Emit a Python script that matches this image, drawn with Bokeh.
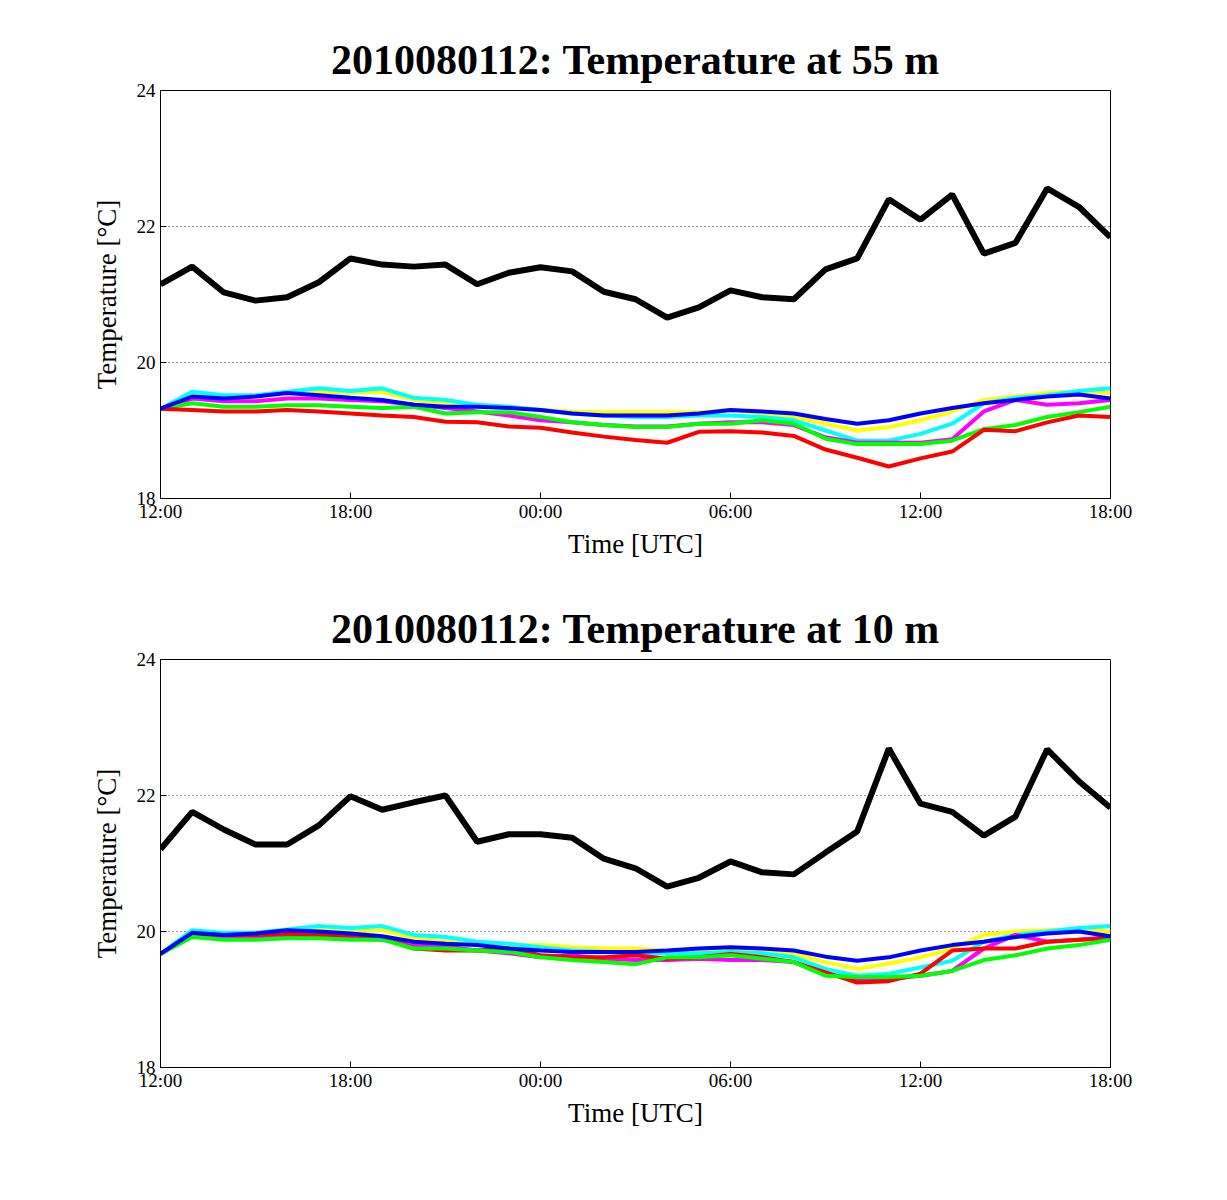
import numpy as np
from bokeh.plotting import figure
from bokeh.layouts import column
from bokeh.models import FixedTicker, Range1d
from bokeh.embed import file_html
from bokeh.resources import INLINE

hours = list(range(31))
tick_hours = [0, 6, 12, 18, 24, 30]
tick_labels = ["12:00", "18:00", "00:00", "06:00", "12:00", "18:00"]

top_black = [21.15,21.41,21.03,20.91,20.96,21.18,21.53,21.44,21.41,21.44,21.15,21.32,21.40,21.34,21.04,20.93,20.66,20.81,21.06,20.96,20.93,21.37,21.53,22.40,22.10,22.47,21.60,21.76,22.56,22.29,21.84]
top_yellow = [19.32,19.55,19.50,19.50,19.55,19.57,19.55,19.57,19.45,19.40,19.37,19.35,19.30,19.28,19.27,19.27,19.27,19.27,19.30,19.25,19.20,19.10,19.00,19.05,19.15,19.28,19.45,19.50,19.55,19.57,19.55]
top_cyan = [19.32,19.57,19.52,19.52,19.57,19.62,19.58,19.62,19.48,19.45,19.38,19.35,19.30,19.25,19.22,19.20,19.20,19.22,19.22,19.20,19.15,19.00,18.85,18.85,18.95,19.10,19.40,19.48,19.52,19.58,19.62]
top_magenta = [19.32,19.47,19.43,19.43,19.47,19.47,19.45,19.43,19.38,19.33,19.28,19.22,19.15,19.12,19.08,19.06,19.06,19.10,19.12,19.12,19.08,18.90,18.82,18.82,18.82,18.87,19.28,19.45,19.38,19.40,19.45]
top_green = [19.32,19.40,19.35,19.35,19.37,19.37,19.35,19.33,19.35,19.25,19.27,19.27,19.20,19.12,19.08,19.05,19.05,19.10,19.10,19.15,19.10,18.88,18.80,18.80,18.80,18.85,19.02,19.08,19.20,19.27,19.35]
top_red = [19.32,19.30,19.28,19.28,19.30,19.28,19.25,19.22,19.20,19.13,19.12,19.06,19.04,18.97,18.91,18.86,18.82,18.98,18.99,18.97,18.92,18.72,18.60,18.47,18.59,18.69,19.01,18.99,19.12,19.22,19.20]
top_blue = [19.32,19.50,19.47,19.50,19.55,19.52,19.48,19.45,19.38,19.35,19.35,19.33,19.30,19.25,19.22,19.22,19.22,19.25,19.30,19.28,19.25,19.17,19.10,19.15,19.25,19.33,19.40,19.45,19.50,19.53,19.47]

bot_black = [21.21,21.76,21.50,21.28,21.28,21.56,21.99,21.79,21.90,22.00,21.32,21.43,21.43,21.38,21.07,20.93,20.66,20.79,21.03,20.87,20.84,21.16,21.47,22.69,21.88,21.76,21.41,21.69,22.68,22.21,21.82]
bot_yellow = [19.67,20.00,19.97,19.97,20.00,20.03,20.00,20.02,19.90,19.85,19.82,19.80,19.80,19.77,19.75,19.75,19.72,19.73,19.75,19.72,19.67,19.55,19.45,19.53,19.62,19.75,19.95,20.00,20.02,20.03,20.00]
bot_cyan = [19.67,20.02,19.98,19.98,20.03,20.08,20.05,20.08,19.95,19.92,19.85,19.82,19.77,19.72,19.70,19.68,19.68,19.68,19.70,19.68,19.62,19.45,19.35,19.38,19.47,19.57,19.85,19.95,20.00,20.05,20.08]
bot_magenta = [19.67,19.95,19.92,19.92,19.95,19.93,19.90,19.88,19.80,19.78,19.72,19.68,19.62,19.65,19.60,19.58,19.58,19.60,19.58,19.58,19.55,19.37,19.30,19.30,19.35,19.42,19.75,19.95,19.85,19.88,19.92]
bot_red = [19.67,19.97,19.95,19.95,19.97,19.95,19.95,19.90,19.75,19.72,19.72,19.75,19.65,19.62,19.62,19.65,19.60,19.62,19.67,19.62,19.55,19.40,19.25,19.27,19.38,19.72,19.75,19.75,19.85,19.88,19.90]
bot_green = [19.67,19.92,19.88,19.88,19.90,19.90,19.88,19.88,19.75,19.75,19.72,19.70,19.62,19.58,19.55,19.52,19.62,19.62,19.65,19.60,19.55,19.35,19.33,19.33,19.35,19.42,19.58,19.65,19.75,19.80,19.88]
bot_blue = [19.67,19.98,19.95,19.97,20.02,20.00,19.97,19.93,19.85,19.82,19.80,19.75,19.72,19.70,19.70,19.70,19.72,19.75,19.77,19.75,19.72,19.63,19.57,19.62,19.72,19.80,19.85,19.92,19.97,20.00,19.93]

FONT = "Liberation Serif"

def make(title, series, top_border):
    p = figure(output_backend="svg", toolbar_location=None,
               frame_width=950, frame_height=408,
               min_border_left=160, min_border_right=60,
               min_border_top=top_border, min_border_bottom=78,
               x_range=Range1d(0, 30), y_range=Range1d(18, 24))
    p.title.text = title
    p.title.align = "center"
    p.title.text_font = FONT
    p.title.text_font_size = "42px"
    p.title.text_font_style = "bold"
    p.title.text_color = "black"
    p.title.offset = 0
    p.title.standoff = 16
    p.outline_line_color = "black"
    p.outline_line_width = 1
    p.xgrid.visible = False
    p.ygrid.ticker = FixedTicker(ticks=[20, 22])
    p.ygrid.grid_line_color = "black"
    p.ygrid.grid_line_dash = "1 3"
    p.ygrid.grid_line_alpha = 0.8
    for ax in (p.xaxis[0], p.yaxis[0]):
        ax.major_label_text_font = FONT
        ax.major_label_text_font_size = "19px"
        ax.major_label_text_color = "black"
        ax.axis_label_text_font = FONT
        ax.axis_label_text_font_size = "27px"
        ax.axis_label_text_font_style = "normal"
        ax.axis_label_text_color = "black"
        ax.major_tick_in = 6
        ax.major_tick_out = 0
        ax.minor_tick_line_color = None
        ax.axis_line_color = "black"
    p.xaxis.ticker = FixedTicker(ticks=tick_hours)
    p.xaxis.major_label_overrides = {h: l for h, l in zip(tick_hours, tick_labels)}
    p.xaxis.axis_label = "Time [UTC]"
    p.xaxis.axis_label_standoff = 4
    p.xaxis.major_label_standoff = 2
    p.yaxis.ticker = FixedTicker(ticks=[18, 20, 22, 24])
    p.yaxis.axis_label = "Temperature [°C]"
    p.yaxis.axis_label_standoff = 12
    for ys, c, w in series:
        p.line(hours, ys, line_color=c, line_width=w)
    return p

top = make("2010080112: Temperature at 55 m",
           [(top_yellow, "#ffff00", 4), (top_cyan, "#00ffff", 4), (top_magenta, "#ff00ff", 4),
            (top_green, "#00ff00", 4), (top_red, "#ff0000", 4), (top_blue, "#0000ff", 4),
            (top_black, "black", 6)], 90)
bot = make("2010080112: Temperature at 10 m",
           [(bot_yellow, "#ffff00", 4), (bot_cyan, "#00ffff", 4), (bot_magenta, "#ff00ff", 4),
            (bot_red, "#ff0000", 4), (bot_green, "#00ff00", 4), (bot_blue, "#0000ff", 4),
            (bot_black, "black", 6)], 83)

layout = column(top, bot, spacing=0)
open("out.html", "w").write(file_html(layout, INLINE))
